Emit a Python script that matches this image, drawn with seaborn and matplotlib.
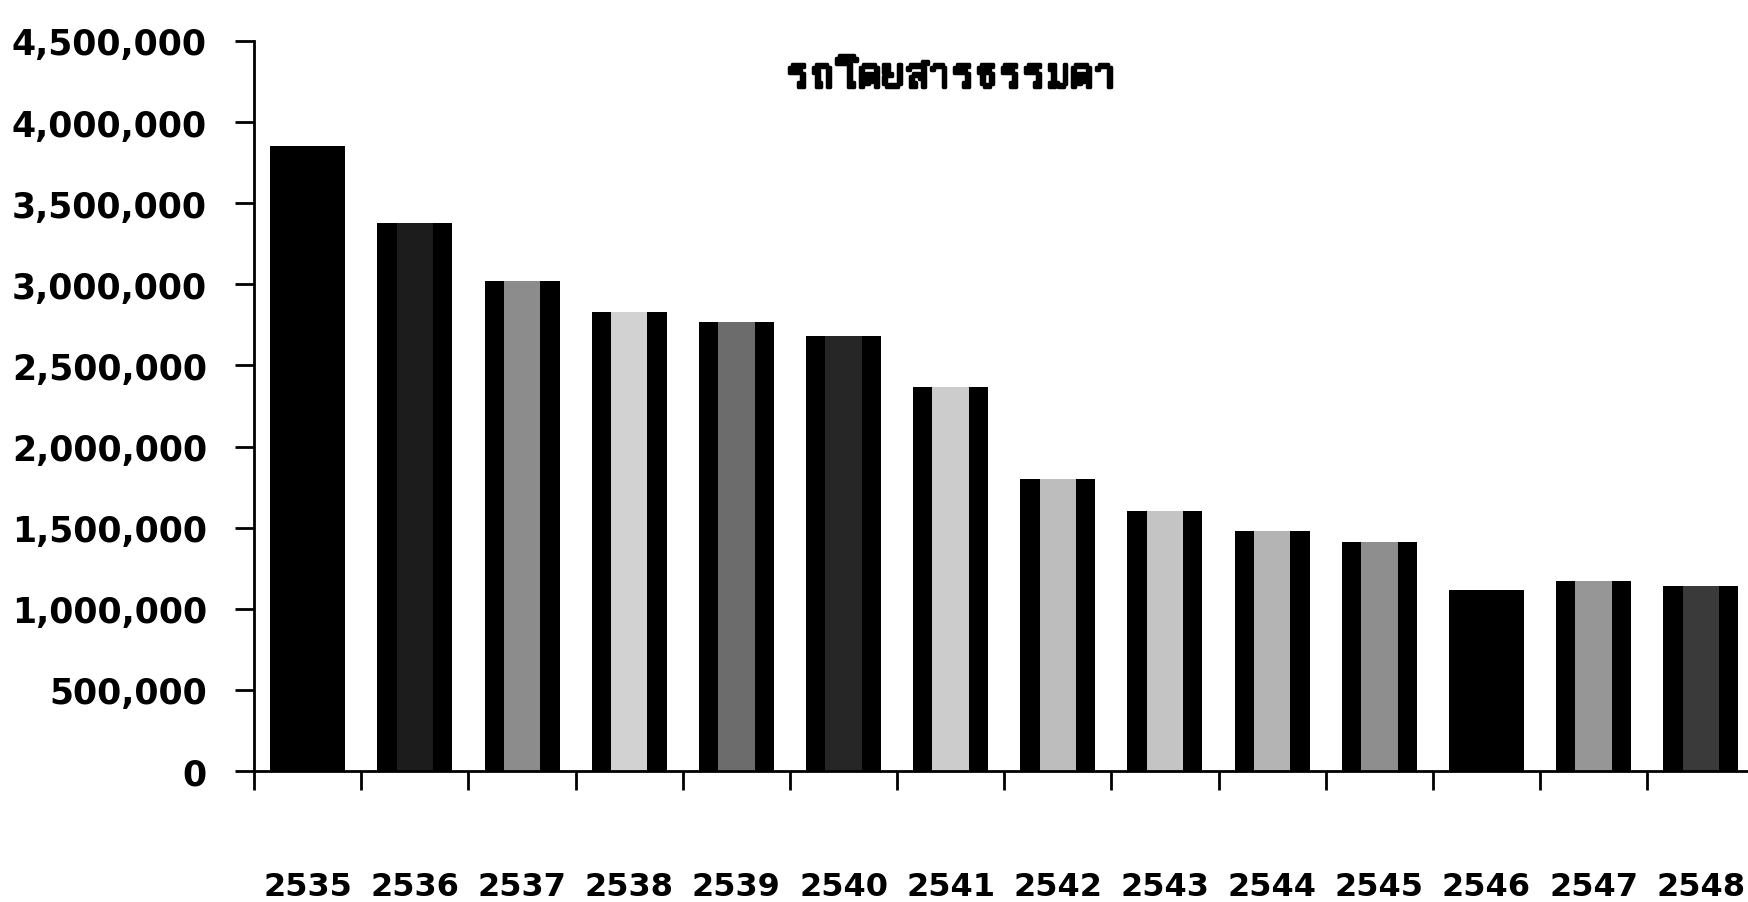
import numpy as np
import matplotlib.pyplot as plt
import matplotlib.patheffects as pe
import seaborn as sns
from matplotlib import font_manager
from matplotlib.ft2font import FT2Font
from matplotlib.ticker import FuncFormatter

years = ['2535', '2536', '2537', '2538', '2539', '2540', '2541',
         '2542', '2543', '2544', '2545', '2546', '2547', '2548']
passengers = [3850000, 3380000, 3020000, 2830000, 2770000, 2680000, 2370000,
              1800000, 1600000, 1480000, 1410000, 1115000, 1170000, 1140000]
title = 'รถโดยสารธรรมดา'

# stipple look of the scan: black bar with a lighter core
core_shades = ['#000000', '#1c1c1c', '#8c8c8c', '#d2d2d2', '#6c6c6c', '#262626',
               '#cccccc', '#bdbdbd', '#c4c4c4', '#b4b4b4', '#8e8e8e', '#000000',
               '#969696', '#3a3a3a']

sns.set_style('white')

# find an installed font that has Thai glyphs, if there is one
thai_family = None
for path in font_manager.findSystemFonts():
    try:
        if 0x0E23 in FT2Font(path).get_charmap():
            thai_family = font_manager.FontProperties(fname=path).get_name()
            break
    except Exception:
        pass
title_fonts = [thai_family, 'DejaVu Sans'] if thai_family else ['DejaVu Sans']
plt.rcParams['font.family'] = ['DejaVu Sans']
plt.rcParams['text.color'] = 'black'
plt.rcParams['xtick.color'] = 'black'
plt.rcParams['ytick.color'] = 'black'

fig = plt.figure(figsize=(17.49, 9.03), dpi=100)
ax = fig.add_axes([0.1453, 0.1451, 1 - 0.1453, 0.9535 - 0.1451])

sns.barplot(x=years, y=passengers, color='black', width=0.7,
            saturation=1, linewidth=0, ax=ax)
sns.barplot(x=years, y=passengers, hue=years, palette=core_shades,
            width=0.34, saturation=1, linewidth=0, legend=False, ax=ax)

ax.set_xlim(-0.5, 13.45)
ax.set_ylim(0, 4500000)
ax.set_yticks(np.arange(0, 4500001, 500000))
ax.yaxis.set_major_formatter(FuncFormatter(lambda v, p: f'{int(v):,}'))

ax.set_xticks(range(len(years)))
ax.set_xticklabels(years)
ax.set_xticks(np.arange(-0.5, 13.5, 1), minor=True)
ax.tick_params(axis='x', which='major', length=0, pad=72, labelsize=23,
               labelcolor='black')
ax.tick_params(axis='x', which='minor', length=14, width=2, color='black',
               direction='out', bottom=True)
ax.tick_params(axis='y', length=14, width=2, color='black', pad=20,
               labelsize=25, left=True, labelcolor='black')
for lab in ax.get_xticklabels() + ax.get_yticklabels():
    lab.set_fontweight('bold')

sns.despine(ax=ax, top=True, right=True)
for side in ['left', 'bottom']:
    ax.spines[side].set_color('black')
    ax.spines[side].set_linewidth(2)
ax.set_xlabel('')
ax.set_ylabel('')

fig.text(0.544, 0.917, title, ha='center', va='center', fontsize=34,
         fontweight='bold', family=title_fonts, color='black',
         path_effects=[pe.withStroke(linewidth=2.5, foreground='black')])

fig.savefig('out.png', dpi=100, facecolor='white')
